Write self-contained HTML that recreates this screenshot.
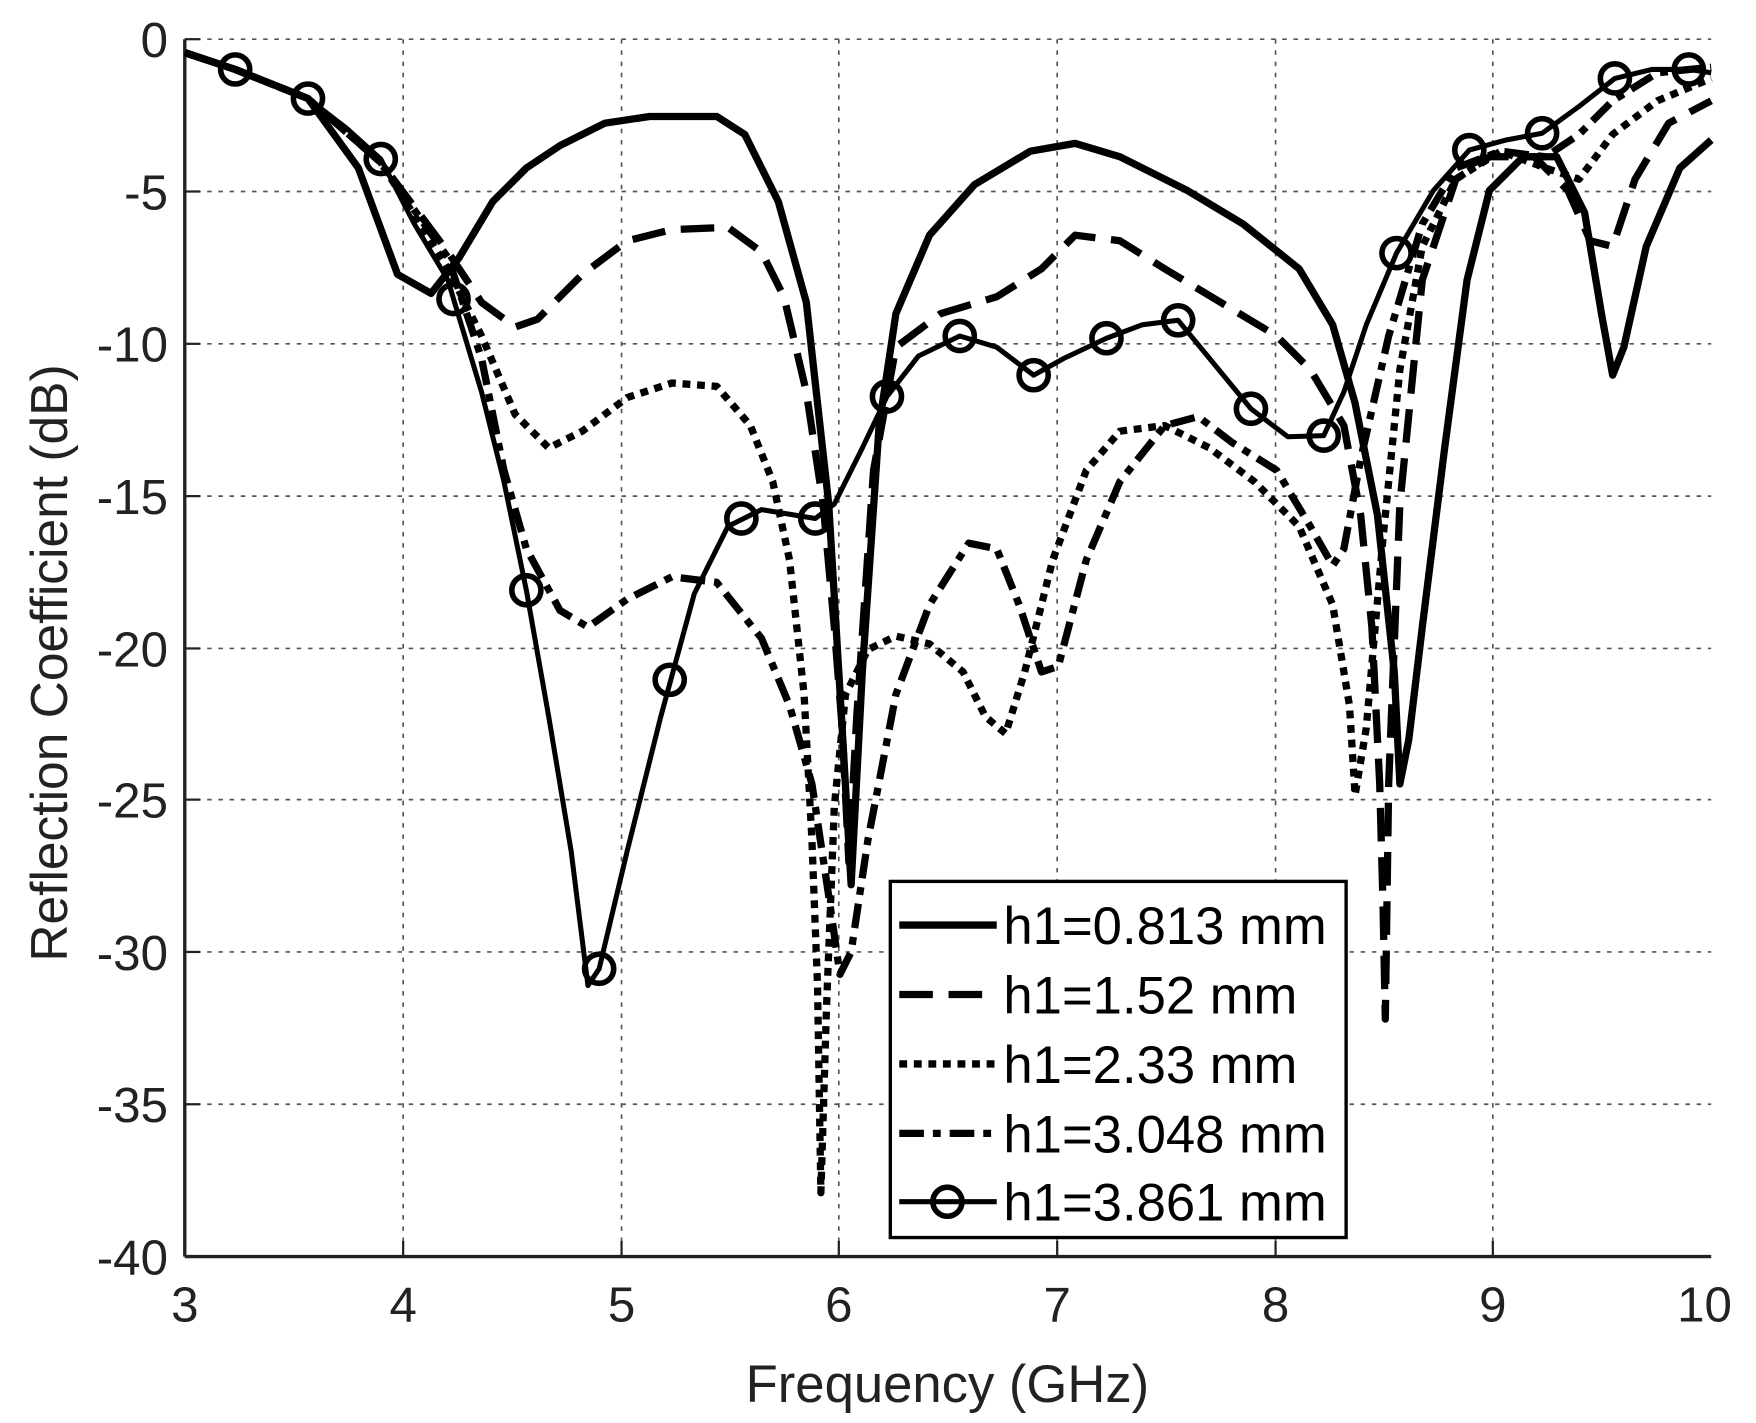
<!DOCTYPE html>
<html><head><meta charset="utf-8"><style>html,body{margin:0;padding:0;background:#fff}svg{display:block}</style></head>
<body>
<svg width="1756" height="1423" viewBox="0 0 1568 1270.6" preserveAspectRatio="none" xmlns="http://www.w3.org/2000/svg" font-family="Liberation Sans, sans-serif">
<rect width="1568" height="1271" fill="#fff"/>
<g stroke="#555" stroke-width="1.5" stroke-dasharray="4,6">
<line x1="360" y1="35" x2="360" y2="1122"/><line x1="555" y1="35" x2="555" y2="1122"/><line x1="749" y1="35" x2="749" y2="1122"/><line x1="944" y1="35" x2="944" y2="1122"/><line x1="1139" y1="35" x2="1139" y2="1122"/><line x1="1333" y1="35" x2="1333" y2="1122"/>
<line x1="165" y1="35" x2="1528" y2="35"/><line x1="165" y1="171" x2="1528" y2="171"/><line x1="165" y1="307" x2="1528" y2="307"/><line x1="165" y1="443" x2="1528" y2="443"/><line x1="165" y1="579" x2="1528" y2="579"/><line x1="165" y1="714" x2="1528" y2="714"/><line x1="165" y1="850" x2="1528" y2="850"/><line x1="165" y1="986" x2="1528" y2="986"/>
</g>
<g stroke="#222" stroke-width="3" fill="none">
<line x1="165" y1="35" x2="165" y2="1122"/><line x1="165" y1="1122" x2="1528" y2="1122"/>
</g>
<g stroke="#222" stroke-width="2">
<line x1="360" y1="1122" x2="360" y2="1108"/><line x1="555" y1="1122" x2="555" y2="1108"/><line x1="749" y1="1122" x2="749" y2="1108"/><line x1="944" y1="1122" x2="944" y2="1108"/><line x1="1139" y1="1122" x2="1139" y2="1108"/><line x1="1333" y1="1122" x2="1333" y2="1108"/>
<line x1="165" y1="35" x2="179" y2="35"/><line x1="165" y1="171" x2="179" y2="171"/><line x1="165" y1="307" x2="179" y2="307"/><line x1="165" y1="443" x2="179" y2="443"/><line x1="165" y1="579" x2="179" y2="579"/><line x1="165" y1="714" x2="179" y2="714"/><line x1="165" y1="850" x2="179" y2="850"/><line x1="165" y1="986" x2="179" y2="986"/>
</g>
<g font-size="44" fill="#222" text-anchor="end">
<text x="150" y="51">0</text><text x="150" y="187">-5</text><text x="150" y="323">-10</text><text x="150" y="459">-15</text><text x="150" y="595">-20</text><text x="150" y="730">-25</text><text x="150" y="866">-30</text><text x="150" y="1002">-35</text><text x="150" y="1138">-40</text>
</g>
<g font-size="44" fill="#222" text-anchor="middle">
<text x="165" y="1180">3</text><text x="360" y="1180">4</text><text x="555" y="1180">5</text><text x="749" y="1180">6</text><text x="944" y="1180">7</text><text x="1139" y="1180">8</text><text x="1333" y="1180">9</text><text x="1522" y="1180">10</text>
<text x="846" y="1252" font-size="47">Frequency (GHz)</text>
<text transform="translate(60,592) rotate(-90)" font-size="46">Reflection Coefficient (dB)</text>
</g>
<g fill="none" stroke="#000" stroke-width="6.5" stroke-linejoin="round" stroke-linecap="butt">
<polyline points="165,47 210,62 275,88 320,150 355,245 385,262 410,230 440,180 470,150 500,130 540,110 580,104 640,104 665,120 695,180 720,270 740,450 752,650 760,790 770,600 785,380 800,280 830,210 870,165 920,135 960,128 1000,140 1060,170 1110,200 1160,240 1190,290 1210,360 1230,460 1245,600 1250,700 1258,660 1270,560 1290,400 1310,250 1330,170 1360,140 1390,140 1415,190 1430,280 1440,335 1450,310 1470,220 1500,150 1528,125"/>
<polyline stroke-dasharray="30,14" points="165,47 210,62 275,88 340,145 400,225 430,270 460,292 480,285 520,245 560,215 600,205 650,203 680,225 700,265 720,350 735,450 745,560 752,650 758,770 765,640 780,420 800,310 840,280 890,265 930,240 960,210 1000,215 1040,240 1090,270 1140,300 1170,330 1200,380 1215,460 1225,560 1232,700 1235,810 1237,910 1240,700 1250,450 1270,250 1300,160 1330,140 1370,140 1400,170 1420,215 1440,220 1460,160 1490,110 1528,90"/>
<polyline stroke-dasharray="7,6" points="165,47 210,62 275,88 340,145 400,240 430,300 460,370 490,400 520,385 560,355 600,342 640,345 670,380 690,430 705,500 718,620 725,750 730,880 733,1065 738,900 745,720 755,620 775,580 800,568 830,575 860,600 880,640 898,655 915,600 940,500 970,420 1000,385 1040,380 1080,400 1120,430 1160,470 1190,540 1205,630 1210,710 1220,650 1235,480 1250,330 1270,220 1300,160 1340,135 1380,150 1410,160 1440,120 1480,90 1528,70"/>
<polyline stroke-dasharray="22,8,7,8" points="165,47 210,62 275,88 340,145 400,230 430,320 450,420 470,490 500,545 525,560 560,535 600,515 640,520 680,570 705,630 725,700 740,800 750,870 760,850 775,750 800,620 830,540 865,485 890,490 910,540 930,600 945,595 970,500 1000,430 1040,380 1070,372 1100,395 1140,420 1170,470 1190,505 1200,490 1215,410 1240,300 1270,200 1300,150 1340,135 1380,140 1410,120 1440,90 1480,65 1528,60"/>
<polyline stroke-width="4.5" points="165,47 210,62 275,88 310,115 340,142 370,200 400,250 405,267 430,350 450,430 470,527 490,640 510,760 525,880 535,865 560,760 590,640 620,530 650,470 680,455 728,463 745,450 770,400 792,354 820,318 857,300 890,310 923,335 950,320 988,302 1020,290 1052,286 1080,320 1117,365 1150,390 1182,389 1200,350 1220,290 1247,226 1280,170 1312,134 1345,125 1377,119 1410,95 1442,70 1475,62 1508,62 1528,65"/>
</g>
<g fill="none" stroke="#000" stroke-width="5">
<circle cx="210" cy="62" r="13"/><circle cx="275" cy="88" r="13"/><circle cx="340" cy="142" r="13"/><circle cx="405" cy="267" r="13"/><circle cx="470" cy="527" r="13"/><circle cx="535" cy="865" r="13"/><circle cx="598" cy="607" r="13"/><circle cx="662" cy="463" r="13"/><circle cx="728" cy="463" r="13"/><circle cx="792" cy="354" r="13"/><circle cx="857" cy="300" r="13"/><circle cx="923" cy="335" r="13"/><circle cx="988" cy="302" r="13"/><circle cx="1052" cy="286" r="13"/><circle cx="1117" cy="365" r="13"/><circle cx="1182" cy="389" r="13"/><circle cx="1247" cy="226" r="13"/><circle cx="1312" cy="134" r="13"/><circle cx="1377" cy="119" r="13"/><circle cx="1442" cy="70" r="13"/><circle cx="1508" cy="62" r="13"/>
</g>
<rect x="795" y="787" width="407" height="318" fill="#fff" stroke="#000" stroke-width="3"/>
<g fill="none" stroke="#000" stroke-width="6.5">
<line x1="803" y1="826" x2="890" y2="826"/>
<line x1="803" y1="888" x2="890" y2="888" stroke-dasharray="30,14"/>
<line x1="803" y1="950" x2="890" y2="950" stroke-dasharray="7,6"/>
<line x1="803" y1="1012" x2="890" y2="1012" stroke-dasharray="22,8,7,8"/>
<line x1="803" y1="1073" x2="890" y2="1073" stroke-width="4.5"/>
<circle cx="846" cy="1073" r="13" stroke-width="5"/>
</g>
<g font-size="47" fill="#000">
<text x="896" y="843">h1=0.813 mm</text><text x="896" y="905">h1=1.52 mm</text><text x="896" y="967">h1=2.33 mm</text><text x="896" y="1029">h1=3.048 mm</text><text x="896" y="1090">h1=3.861 mm</text>
</g>
</svg>
</body></html>
